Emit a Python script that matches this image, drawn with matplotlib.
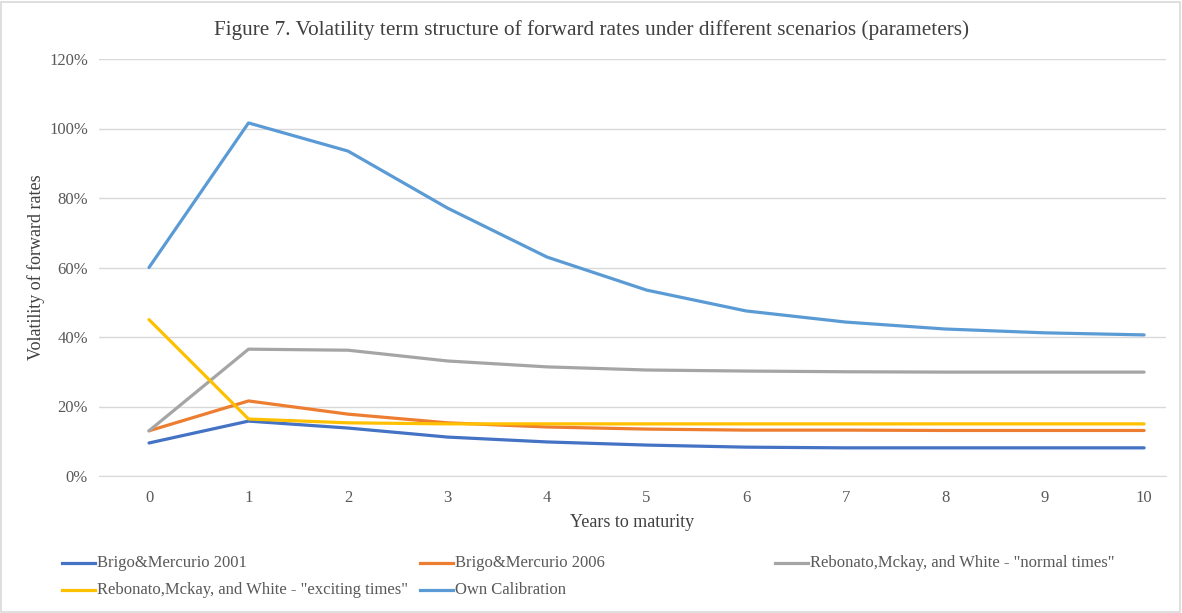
import matplotlib
matplotlib.use("Agg")
import matplotlib.pyplot as plt
from matplotlib.lines import Line2D
from matplotlib.patches import Rectangle
from matplotlib.ticker import FuncFormatter

years = list(range(11))
brigo_2001 = [9.5, 15.8, 13.8, 11.2, 9.8, 8.9, 8.3, 8.1, 8.1, 8.1, 8.1]
brigo_2006 = [13.0, 21.6, 17.8, 15.3, 14.1, 13.5, 13.2, 13.2, 13.1, 13.1, 13.1]
rmw_normal = [13.0, 36.5, 36.2, 33.1, 31.4, 30.5, 30.2, 30.0, 29.9, 29.9, 29.9]
rmw_exciting = [45.0, 16.4, 15.3, 15.0, 15.0, 15.0, 15.0, 15.0, 15.0, 15.0, 15.0]
own_calib = [60.0, 101.6, 93.5, 77.1, 63.0, 53.5, 47.5, 44.3, 42.3, 41.2, 40.6]

names = ["Brigo&Mercurio 2001", "Brigo&Mercurio 2006",
         "Rebonato,Mckay, and White - \"normal times\"",
         "Rebonato,Mckay, and White - \"exciting times\"",
         "Own Calibration"]
colors = ["#4472C4", "#ED7D31", "#A5A5A5", "#FFC000", "#5B9BD5"]
series = [brigo_2001, brigo_2006, rmw_normal, rmw_exciting, own_calib]

plt.rcParams['font.family'] = ['Liberation Serif', 'DejaVu Serif']

W, H = 1182, 613
fig = plt.figure(figsize=(W / 100, H / 100), dpi=100)
ax = fig.add_axes([99 / W, 1 - 476 / H, (1166 - 99) / W, (476 - 59) / H])

for s, c, n in zip(series, colors, names):
    ax.plot(years, s, color=c, lw=2.3, label=n, solid_capstyle='round')

ax.set_xlim(-0.5025, 10.22)
ax.set_ylim(0, 120)
ax.set_yticks(range(0, 121, 20))
ax.set_xticks(years)
ax.yaxis.set_major_formatter(FuncFormatter(lambda v, p: f"{int(v)}%"))
ax.grid(axis='y', color='#D9D9D9', lw=1)
ax.set_axisbelow(True)
for sp in ['top', 'right', 'left']:
    ax.spines[sp].set_visible(False)
ax.spines['bottom'].set_color('#D9D9D9')
ax.tick_params(axis='both', length=0, labelsize=12, colors='#595959', pad=8)
ax.tick_params(axis='x', pad=10)
ax.set_xlabel("Years to maturity", fontsize=13, color='#404040', labelpad=6)
ax.set_ylabel("Volatility of forward rates", fontsize=13, color='#404040', labelpad=3)

fig.text(592 / W, 1 - 30 / H,
         "Figure 7. Volatility term structure of forward rates under different scenarios (parameters)",
         ha='center', va='center', fontsize=15.3, color='#404040')

# legend (manual, Excel-like layout)
entries = [(62, 563), (420, 563), (775, 563), (62, 590), (420, 590)]
for (x0, y0), c, n in zip(entries, colors, names):
    yy = 1 - y0 / H
    fig.add_artist(Line2D([x0 / W, (x0 + 33) / W], [yy, yy], color=c, lw=2.3,
                          transform=fig.transFigure))
    fig.text((x0 + 35) / W, yy, n, ha='left', va='center', fontsize=12, color='#595959')

fig.add_artist(Rectangle((1 / W, 1 / H), (W - 3) / W, (H - 3) / H, transform=fig.transFigure,
                         fill=False, edgecolor='#D9D9D9', lw=1.2))

fig.savefig("out.png", dpi=100)
